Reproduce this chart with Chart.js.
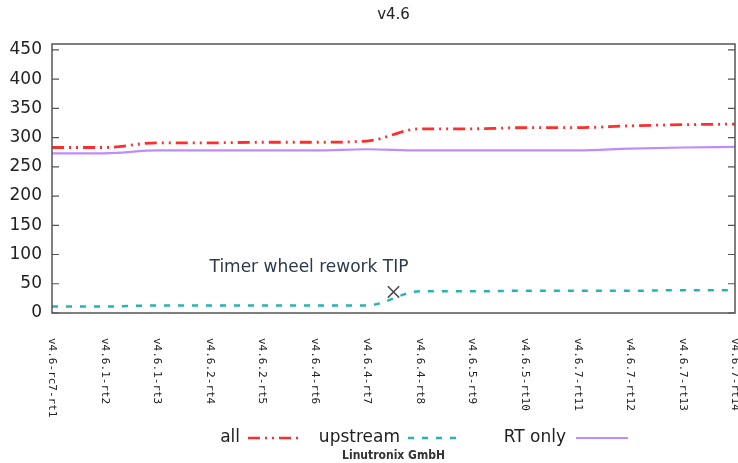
<!DOCTYPE html>
<html><head><meta charset="utf-8">
<script src="https://cdn.jsdelivr.net/npm/chart.js@4/dist/chart.umd.min.js"></script>
<style>html,body{margin:0;padding:0;background:#fff}#wrap{width:738px;height:463px}</style>
</head><body><div id="wrap"><canvas id="c" width="738" height="463"></canvas></div>
<script>
const labels = ["v4.6-rc7-rt1","v4.6.1-rt2","v4.6.1-rt3","v4.6.2-rt4","v4.6.2-rt5","v4.6.4-rt6","v4.6.4-rt7","v4.6.4-rt8","v4.6.5-rt9","v4.6.5-rt10","v4.6.7-rt11","v4.6.7-rt12","v4.6.7-rt13","v4.6.7-rt14"];
const allValues      = [283,283,291,291,292,292,294,315,315,317,317,320,322,323];
const upstreamValues = [11,11,13,13,13,13,13,37,37,38,38,38,39,39];
const rtOnlyValues   = [273,273,278,278,278,278,280,278,278,278,278,281,283,284];
const yTicks = [0,50,100,150,200,250,300,350,400,450];
const yMax = 460;
const markerX = [6.5];
const markerY = [36];
const markerText = "Timer wheel rework TIP";
const title = "v4.6";
const footer = "Linutronix GmbH";

const toPts = arr => arr.map((v,i)=>({x:i,y:v}));
const COL = {all:'#ff2e2e', up:'#25b5ae', rt:'#bf8cff', text:'#222', border:'#555', ann:'#2c3a4a'};

const deco = {
  id:'deco',
  afterDraw(chart){
    const ctx = chart.ctx, a = chart.chartArea, xs = chart.scales.x, ys = chart.scales.y;
    ctx.save();
    ctx.strokeStyle = COL.border; ctx.lineWidth = 1.5;
    ctx.strokeRect(a.left, a.top, a.right-a.left, a.bottom-a.top);
    ctx.lineWidth = 1.2;
    yTicks.forEach(v=>{
      const y = ys.getPixelForValue(v);
      ctx.beginPath(); ctx.moveTo(a.left,y); ctx.lineTo(a.left+7,y);
      ctx.moveTo(a.right,y); ctx.lineTo(a.right-7,y); ctx.stroke();
    });
    ctx.fillStyle = COL.text; ctx.font = '11px "DejaVu Sans Mono"';
    ctx.textAlign='left'; ctx.textBaseline='middle';
    labels.forEach((l,i)=>{
      const x = xs.getPixelForValue(i);
      ctx.save(); ctx.translate(x, a.bottom+25); ctx.rotate(Math.PI/2);
      ctx.fillText(l,0,0); ctx.restore();
    });
    ctx.font = '15px "DejaVu Sans"'; ctx.textAlign='center'; ctx.textBaseline='middle';
    ctx.fillText(title, (a.left+a.right)/2, 15);
    ctx.fillStyle = COL.ann; ctx.font = '17px "DejaVu Sans"'; ctx.textAlign='right';
    ctx.fillText(markerText, xs.getPixelForValue(markerX[0])+15, ys.getPixelForValue(markerY[0])-24);
    const ly = 438;
    ctx.font = '17px "DejaVu Sans"'; ctx.fillStyle = COL.text; ctx.textAlign='right';
    const items = [
      {t:'all', tx:240, s0:248, s1:300, c:COL.all, d:[12,5,2,5,2,5], w:2.5},
      {t:'upstream', tx:400, s0:408, s1:460, c:COL.up, d:[6,8], w:2.5},
      {t:'RT only', tx:566, s0:576, s1:628, c:COL.rt, d:[], w:2}
    ];
    items.forEach(it=>{
      ctx.fillStyle = COL.text; ctx.fillText(it.t, it.tx, ly);
      ctx.strokeStyle = it.c; ctx.lineWidth = it.w; ctx.setLineDash(it.d);
      ctx.beginPath(); ctx.moveTo(it.s0, ly); ctx.lineTo(it.s1, ly); ctx.stroke();
    });
    ctx.setLineDash([]);
    ctx.font = 'bold 12px "DejaVu Sans Condensed"'; ctx.fillStyle='#333'; ctx.textAlign='center';
    ctx.fillText(footer, (a.left+a.right)/2, 456);
    ctx.restore();
  }
};

new Chart(document.getElementById('c'), {
  type:'line',
  data:{datasets:[
    {label:'all', data:toPts(allValues), borderColor:COL.all, borderWidth:2.8, borderDash:[12,5,2,5,2,5], pointRadius:0, cubicInterpolationMode:'monotone', fill:false},
    {label:'upstream', data:toPts(upstreamValues), borderColor:COL.up, borderWidth:2.5, borderDash:[6,8], pointRadius:0, cubicInterpolationMode:'monotone', fill:false},
    {label:'RT only', data:toPts(rtOnlyValues), borderColor:COL.rt, borderWidth:2.2, pointRadius:0, cubicInterpolationMode:'monotone', fill:false},
    {type:'scatter', label:'marker', data:markerX.map((x,i)=>({x, y:markerY[i]})), pointStyle:'crossRot', pointRadius:8, borderColor:'#444a55', borderWidth:1.5, showLine:false}
  ]},
  options:{
    responsive:false, animation:false, devicePixelRatio:1,
    layout:{autoPadding:false, padding:{top:44,right:3,left:0,bottom:0}},
    plugins:{legend:{display:false}, title:{display:false}, tooltip:{enabled:false}},
    scales:{
      x:{type:'linear', min:0, max:labels.length-1, grid:{display:false}, border:{display:false},
         ticks:{display:false}, afterFit(s){s.height=150;}},
      y:{min:0, max:yMax, grid:{display:false, drawTicks:false}, border:{display:false},
         afterBuildTicks(s){s.ticks = yTicks.map(v=>({value:v}));},
         ticks:{padding:10, color:COL.text, font:{family:'DejaVu Sans', size:17}},
         afterFit(s){s.width=52;}}
    }
  },
  plugins:[deco]
});
</script></body></html>
